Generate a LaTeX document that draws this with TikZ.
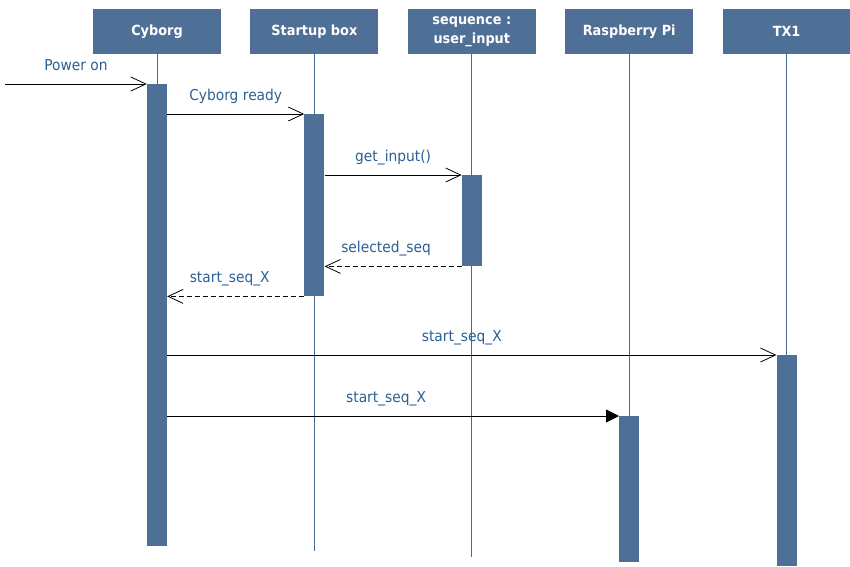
\documentclass[tikz,border=0pt]{standalone}
\usepackage{fontspec}
\setmainfont{DejaVu Sans}[FakeStretch=0.92]
\usetikzlibrary{positioning,arrows.meta}
\definecolor{boxblue}{HTML}{4F7096}
\definecolor{msgblue}{HTML}{2B5F93}
\definecolor{lifeblue}{HTML}{4A6A96}

\begin{document}
\begin{tikzpicture}[x=1pt,y=-1pt,node distance=157.4pt,
  head/.style={fill=boxblue,text=white,font=\bfseries\fontsize{14}{19}\selectfont,
    minimum width=128pt,minimum height=45pt,inner sep=0pt,align=center},
  bar/.style={fill=boxblue,minimum width=20pt,inner sep=0pt,anchor=north},
  life/.style={draw=lifeblue,line width=0.7pt},
  msg/.style={-{Straight Barb[length=15pt,width=14pt]},line width=0.8pt},
  ret/.style={msg,dash pattern=on 5pt off 3pt},
  call/.style={-{Triangle[length=13pt,width=13pt]},line width=0.8pt},
  lbl/.style={text=msgblue,font=\fontsize{15}{17}\selectfont,anchor=base,
    yshift=13.5pt,inner sep=0pt}]
  \useasboundingbox (0,0) rectangle (850,566);

  \node[head]              (cyb)           at (157,31.5) {Cyborg};
  \node[head]              (st)  [right of=cyb] {Startup box};
  \node[head]              (seq) [right of=st]  {sequence :\\user\_input};
  \node[head]              (rpi) [right of=seq] {Raspberry Pi};
  \node[head]              (tx)  [right of=rpi] {TX1};

  % lifelines
  \draw[life] (cyb.south) -- (cyb |- 0,546);
  \draw[life] (st.south)  -- (st |- 0,551);
  \draw[life] (seq.south) -- (seq |- 0,557);
  \draw[life] (rpi.south) -- (rpi |- 0,562);
  \draw[life] (tx.south)  -- (tx |- 0,566);

  % activation bars
  \node[bar,minimum height=462pt] (cybBar) at (cyb |- 0,84)  {};
  \node[bar,minimum height=182pt] (stBar)  at (st |- 0,114)  {};
  \node[bar,minimum height=91pt]  (seqBar) at (seq |- 0,175) {};
  \node[bar,minimum height=146pt] (rpiBar) at (rpi |- 0,416) {};
  \node[bar,minimum height=211pt] (txBar)  at (tx |- 0,355)  {};

  \coordinate (pwr) at (5,84);

  \draw[msg]  (pwr) -- (cybBar.north west) node[lbl,midway] {Power on};
  \draw[msg]  (cybBar.east |- stBar.north) -- (stBar.north west)
              node[lbl,midway] {Cyborg ready};
  \draw[msg]  (stBar.east |- seqBar.north) -- (seqBar.north west)
              node[lbl,midway] {get\_input()};
  \draw[ret]  (seqBar.south west) -- (stBar.east |- seqBar.south)
              node[lbl,midway,xshift=-7pt] {selected\_seq};
  \draw[ret]  (stBar.south west) -- (cybBar.east |- stBar.south)
              node[lbl,midway,xshift=-6pt] {start\_seq\_X};
  \draw[msg]  (cybBar.east |- txBar.north) -- (txBar.north west)
              node[lbl,midway,xshift=-10pt] {start\_seq\_X};
  \draw[call] (cybBar.east |- rpiBar.north) -- (rpiBar.north west)
              node[lbl,midway,xshift=-7pt] {start\_seq\_X};
\end{tikzpicture}
\end{document}
